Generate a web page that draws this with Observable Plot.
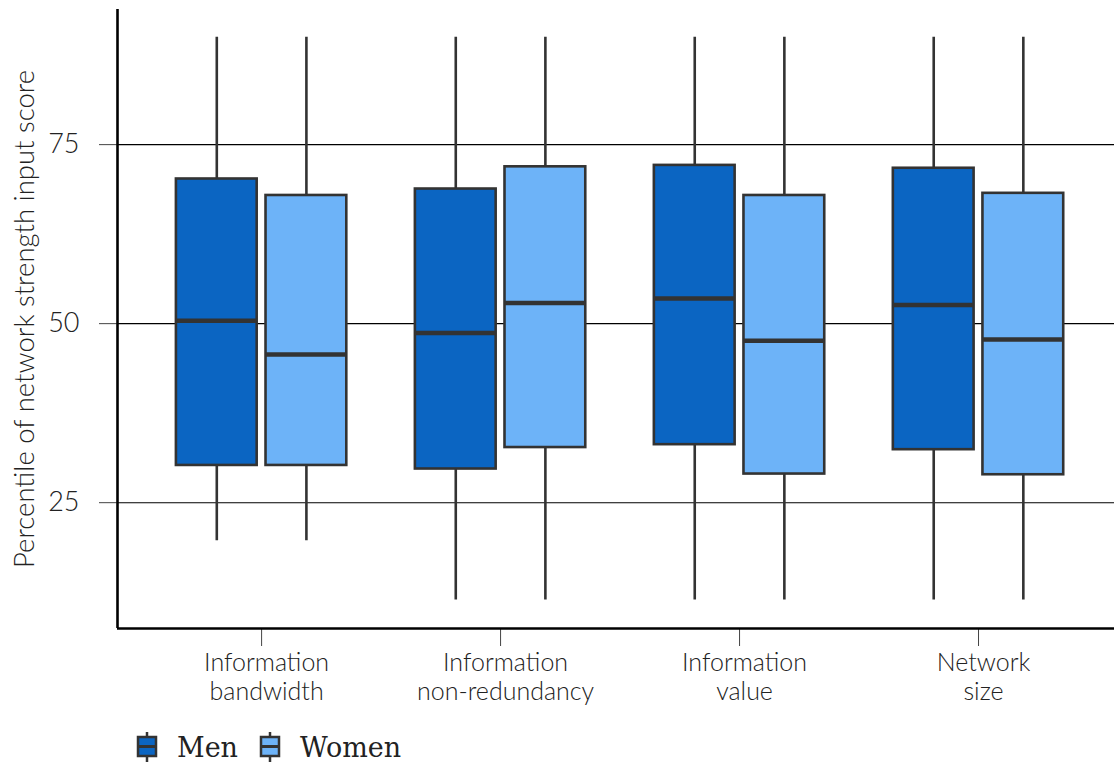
<!DOCTYPE html>
<html>
<head>
<meta charset="utf-8">
<script src="https://cdn.jsdelivr.net/npm/d3@7"></script>
<script src="https://cdn.jsdelivr.net/npm/@observablehq/plot@0.6"></script>
<style>
  body { margin: 0; background: #fff; }
  #chart svg { display: block; }
  #legend {
    display: flex; align-items: center;
    height: 30px; padding-top: 20px; padding-left: 135px;
    font-family: "DejaVu Serif", serif; font-size: 27px; color: #222;
  }
  #legend .item { display: flex; align-items: center; margin-right: 20px; }
  #legend svg { display: block; margin-right: 18px; }
</style>
</head>
<body>
<div id="chart"></div>
<div id="legend"></div>
<script>
// Network strength components, percentile box statistics by gender
const categories = ["Information\nbandwidth", "Information\nnon-redundancy", "Information\nvalue", "Network\nsize"];
const groups = ["Men", "Women"];
const colors = ["#0b65c2", "#6db3f8"];

const menLower  = [19.7, 11.4, 11.4, 11.4];
const menQ1     = [30.2, 29.7, 33.1, 32.4];
const menMedian = [50.4, 48.7, 53.5, 52.6];
const menQ3     = [70.2, 68.8, 72.1, 71.7];
const menUpper  = [90.0, 90.0, 90.0, 90.0];

const womenLower  = [19.7, 11.4, 11.4, 11.4];
const womenQ1     = [30.2, 32.7, 29.0, 28.9];
const womenMedian = [45.7, 52.9, 47.6, 47.8];
const womenQ3     = [67.9, 71.9, 67.9, 68.2];
const womenUpper  = [90.0, 90.0, 90.0, 90.0];

const yTicks = [25, 50, 75];
const yTitle = "Percentile of network strength input score";

// dodge layout within each category slot
const dodge = 0.1875, halfBox = 0.169;

const stats = {
  Men: [menLower, menQ1, menMedian, menQ3, menUpper],
  Women: [womenLower, womenQ1, womenMedian, womenQ3, womenUpper]
};
const boxes = categories.flatMap((c, i) => groups.map((g, k) => {
  const [lo, q1, med, q3, hi] = stats[g].map(a => a[i]);
  const cx = i + (k === 0 ? -dodge : dodge);
  return {cat: c, sex: g, cx, x1: cx - halfBox, x2: cx + halfBox, lo, q1, med, q3, hi};
}));

const xMin = -0.603, xMax = 3.569;
const yMin = 7.43, yMax = 93.87;
const ink = "#333";
const catTicks = categories.map((c, i) => i);

const chart = Plot.plot({
  width: 1114,
  height: 712,
  marginLeft: 117,
  marginRight: 0,
  marginTop: 9,
  marginBottom: 84,
  style: {fontFamily: "Lato, 'Open Sans', sans-serif", fontSize: "26px", fontWeight: 300, color: "#222", background: "#fff"},
  x: {domain: [xMin, xMax]},
  y: {domain: [yMin, yMax]},
  color: {domain: groups, range: colors},
  marks: [
    Plot.gridY(yTicks, {stroke: "#000", strokeOpacity: 1, strokeWidth: 1.1}),
    Plot.axisY(yTicks, {tickSize: 18, tickPadding: 20, fontSize: 27, label: null, stroke: "#444"}),
    // category tick marks, then their two-line labels
    Plot.axisX(catTicks, {tickFormat: () => "", tickSize: 18, label: null, stroke: "#444"}),
    Plot.axisX(catTicks, {
      tickFormat: i => categories[i], tickSize: 0, tickPadding: 22, dx: 5,
      fontSize: 25, lineHeight: 1.15, label: null
    }),
    Plot.ruleX([xMin], {stroke: "#000", strokeWidth: 2.6}),
    Plot.ruleY([yMin], {stroke: "#000", strokeWidth: 2.6}),
    Plot.ruleX(boxes, {x: "cx", y1: "lo", y2: "hi", stroke: ink, strokeWidth: 2.6}),
    Plot.rect(boxes, {x1: "x1", x2: "x2", y1: "q1", y2: "q3", fill: "sex", stroke: ink, strokeWidth: 2.6}),
    Plot.ruleY(boxes, {x1: "x1", x2: "x2", y: "med", stroke: ink, strokeWidth: 4.5}),
    Plot.text([yTitle], {frameAnchor: "left", textAnchor: "middle", rotate: -90, dx: -92, fontSize: 27.5, fill: "#222"})
  ]
});
document.getElementById("chart").append(chart);

// legend: miniature boxplot glyphs
const legend = d3.select("#legend");
groups.forEach((g, k) => {
  const item = legend.append("div").attr("class", "item");
  const svg = item.append("svg").attr("width", 24).attr("height", 30);
  svg.append("line").attr("x1", 12).attr("x2", 12).attr("y1", 0).attr("y2", 30)
    .attr("stroke", ink).attr("stroke-width", 2.5);
  svg.append("rect").attr("x", 3).attr("y", 5).attr("width", 18).attr("height", 19)
    .attr("fill", colors[k]).attr("stroke", ink).attr("stroke-width", 2.5);
  svg.append("line").attr("x1", 3).attr("x2", 21).attr("y1", 14.5).attr("y2", 14.5)
    .attr("stroke", ink).attr("stroke-width", 3);
  item.append("span").text(g);
});
</script>
</body>
</html>
